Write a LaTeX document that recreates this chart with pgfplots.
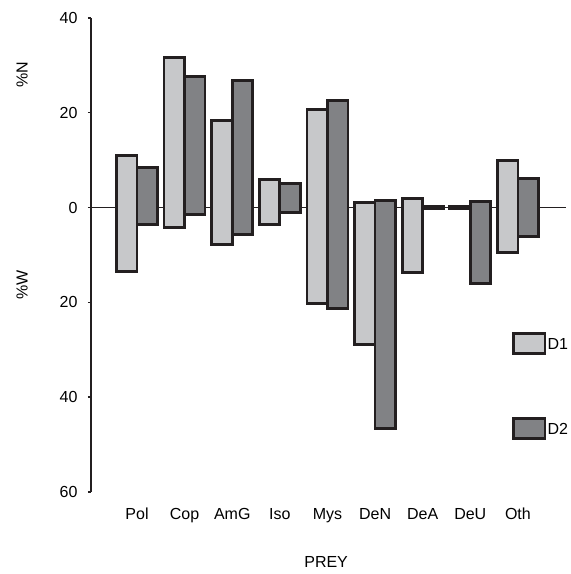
\documentclass[border=0pt]{standalone}
\usepackage{fontspec}
\setmainfont{Liberation Sans}
\usepackage{pgfplots}
\usepackage{pgfplotstable}
\pgfplotsset{compat=1.18}
\definecolor{lightbar}{HTML}{C7C8CA}
\definecolor{darkbar}{HTML}{818285}
\definecolor{edge}{HTML}{231F20}
\pgfplotstableread{
x N1 W1 N2 W2
0 11.0 13.5 8.4 3.6
1 31.6 4.2 27.6 1.5
2 18.4 7.8 26.8 5.7
3 5.9 3.6 5.1 1.0
4 20.7 20.3 22.6 21.3
5 1.1 28.9 1.5 46.6
6 1.9 13.7 0.2 0.2
7 0.2 0.2 1.3 16.0
8 9.9 9.5 6.1 6.1
}\prey
\begin{document}
\fontsize{16}{19}\selectfont
\begin{tikzpicture}
\begin{axis}[
  scale only axis, width=475pt, height=474pt,
  xmin=-0.966, xmax=9.01, ymin=-60, ymax=40,
  clip=false,
  ybar stacked, stack negative=on previous, bar width=0.43,
  axis lines*=left,
  axis line style={-},
  x axis line style={draw=none},
  y axis line style={line width=1.8pt, color=edge},
  xtick={0,...,8},
  xticklabels={Pol,Cop,AmG,Iso,Mys,DeN,DeA,DeU,Oth},
  xtick style={draw=none},
  xticklabel style={anchor=base, yshift=-24.5pt},
  ytick={-60,-40,-20,0,20,40},
  yticklabels={60,40,20,0,20,40},
  ytick style={line width=1.4pt, color=edge},
  tick align=outside, major tick length=3pt,
  yticklabel style={xshift=-5pt},
  /pgf/number format/assume math mode=true,
]
\addplot[draw=none, fill=none, bar shift=-0.215] table[x=x, y expr=-\thisrow{W1}] {\prey};
\addplot[draw=edge, fill=lightbar, line width=2.7pt, bar shift=-0.215] table[x=x, y expr=\thisrow{N1}+\thisrow{W1}] {\prey};
\addplot[draw=none, fill=none, bar shift=0.215] table[x=x, y expr=-\thisrow{N1}-\thisrow{W2}] {\prey};
\addplot[draw=edge, fill=darkbar, line width=2.7pt, bar shift=0.215] table[x=x, y expr=\thisrow{N2}+\thisrow{W2}] {\prey};
\draw[line width=1.3pt, color=edge] (axis cs:-0.966,0) -- (axis cs:9.01,0);
% legend
\draw[fill=lightbar, draw=edge, line width=2.7pt] (axis cs:7.90,-26.6) rectangle (axis cs:8.57,-30.8);
\node[anchor=west, inner sep=0pt] at (axis cs:8.62,-28.7) {D1};
\draw[fill=darkbar, draw=edge, line width=2.7pt] (axis cs:7.90,-44.5) rectangle (axis cs:8.57,-48.7);
\node[anchor=west, inner sep=0pt] at (axis cs:8.62,-46.6) {D2};
% axis titles
\node[rotate=90] at ([xshift=-69pt]rel axis cs:0,0.880) {\%N};
\node[rotate=90] at ([xshift=-69pt]rel axis cs:0,0.437) {\%W};
\node at ([yshift=-70pt]rel axis cs:0.495,0) {PREY};
\coordinate (sw) at (rel axis cs:0,0);
\coordinate (ne) at (rel axis cs:1,1);
\end{axis}
\pgfresetboundingbox
\path ([xshift=-91pt,yshift=-82pt]sw) rectangle ([xshift=5pt,yshift=18pt]ne);
\end{tikzpicture}
\end{document}
